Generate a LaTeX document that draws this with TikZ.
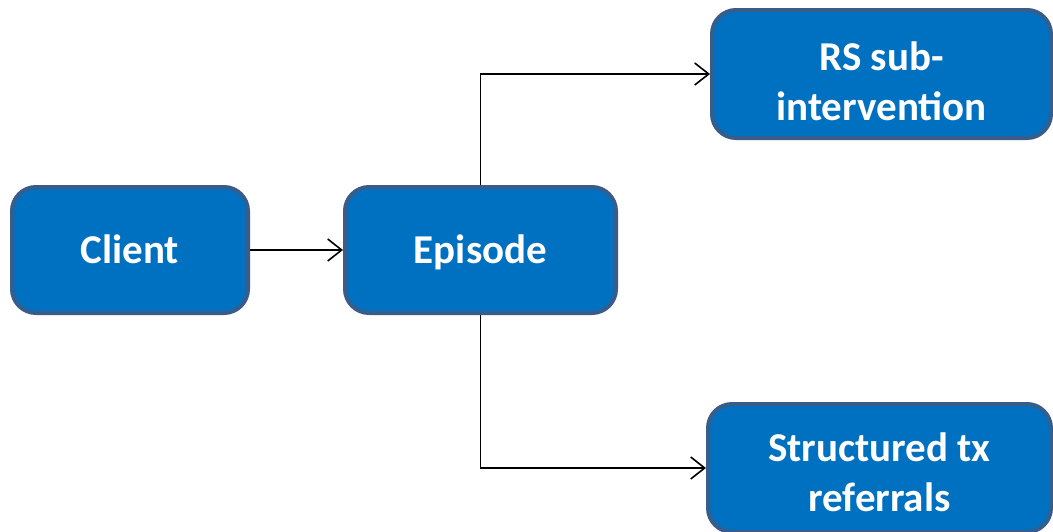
\documentclass[tikz,border=0pt]{standalone}
\usepackage{fontspec}
\setmainfont{Carlito}
\usetikzlibrary{arrows.meta}
\definecolor{boxfill}{RGB}{0,112,192}
\definecolor{boxline}{RGB}{56,93,138}

\begin{document}
\begin{tikzpicture}[x=1pt, y=-1pt,
    box/.style={draw=boxline, fill=boxfill, line width=4pt, rounded corners=24pt,
      text=white, font=\fontsize{41}{50}\selectfont\bfseries, align=center, inner sep=0pt},
    single/.style={text height=30pt, text depth=4pt},
    arr/.style={-{Straight Barb[length=14pt, width=22pt]}, line width=1.6pt}]

    % Fix the canvas
    \useasboundingbox (0,0) rectangle (1053,531);

    % Draw the boxes
    \node[box, single, minimum width=236pt, minimum height=126pt] (client) at (130,250) {Client};
    \node[box, single, minimum width=271pt, minimum height=126pt] (episode) at (480.5,250) {Episode};
    \node[box, text height=92pt, text depth=0pt, minimum width=339pt, minimum height=128pt] (rs) at (881.5,74) {RS sub-\\intervention};
    \node[box, text height=86pt, text depth=0pt, minimum width=343pt, minimum height=128pt] (tx) at (879.5,468) {Structured tx\\referrals};

    % Draw the connectors
    \draw[arr] (client) -- (episode);
    \draw[arr] (episode.north) |- (rs.west);
    \draw[arr] (episode.south) |- (tx.west);
\end{tikzpicture}
\end{document}
